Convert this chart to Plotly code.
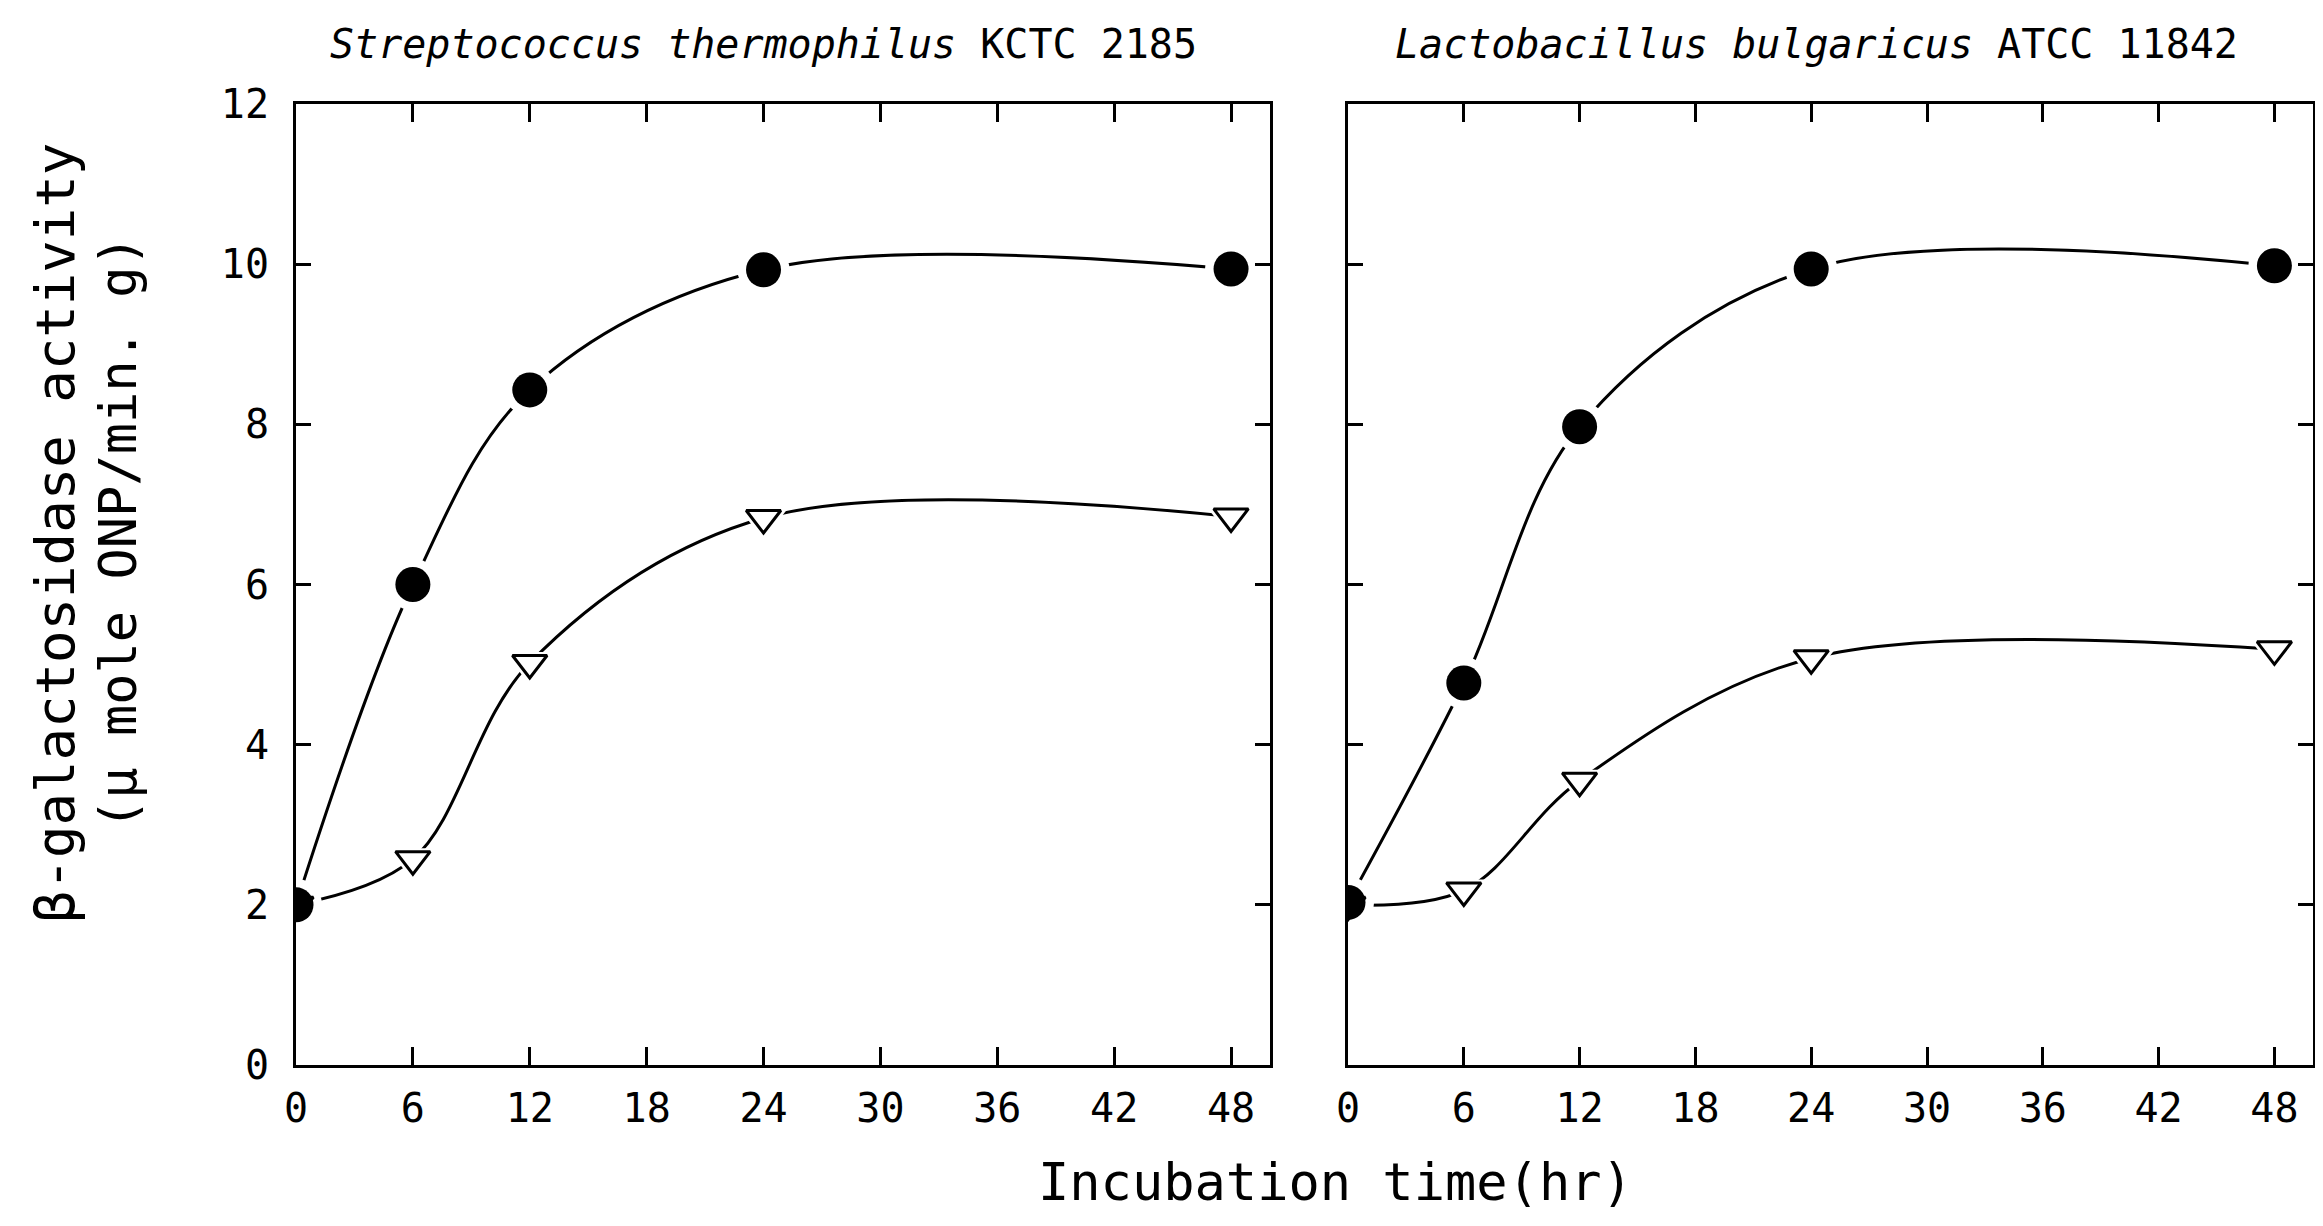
import plotly.graph_objects as go

# ---- data ----
hours = [0, 6, 12, 24, 48]
st_circle = [2.0, 6.0, 8.43, 9.93, 9.94]
st_triangle = [2.0, 2.57, 5.02, 6.83, 6.85]
lb_circle = [2.03, 4.77, 7.97, 9.94, 9.98]
lb_triangle = [2.0, 2.18, 3.55, 5.08, 5.19]
x_ticks = [0, 6, 12, 18, 24, 30, 36, 42, 48]
y_ticks = [0, 2, 4, 6, 8, 10, 12]
titles = ["<i>Streptococcus thermophilus</i> KCTC 2185",
          "<i>Lactobacillus bulgaricus</i> ATCC 11842"]
x_title = "Incubation time(hr)"
y_title_1 = "β-galactosidase activity"
y_title_2 = "(μ mole ONP/min. g)"

FONT = "DejaVu Sans Mono"
OFF = 8  # page body margin
W, H = 2323 - 2 * OFF, 1226 - 2 * OFF


def px(x):
    return min(1.0, (x - OFF) / W)


def py(y):
    return 1 - (y - OFF) / H


fig = go.Figure()

panels = [("x", "y", st_circle, st_triangle), ("x2", "y2", lb_circle, lb_triangle)]

# lines
for xa, ya, circ, tri in panels:
    for vals in (circ, tri):
        fig.add_trace(go.Scatter(x=hours, y=vals, xaxis=xa, yaxis=ya, mode="lines",
                                 line=dict(color="black", width=3, shape="spline", smoothing=1.0),
                                 showlegend=False, hoverinfo="skip"))
# halos (gaps in line around markers)
for xa, ya, circ, tri in panels:
    fig.add_trace(go.Scatter(x=hours, y=tri, xaxis=xa, yaxis=ya, mode="markers",
                             marker=dict(symbol="triangle-down", size=44, color="white"),
                             showlegend=False, hoverinfo="skip"))
    fig.add_trace(go.Scatter(x=hours, y=circ, xaxis=xa, yaxis=ya, mode="markers",
                             marker=dict(symbol="circle", size=52, color="white"),
                             showlegend=False, hoverinfo="skip"))
# markers
for xa, ya, circ, tri in panels:
    fig.add_trace(go.Scatter(x=hours, y=tri, xaxis=xa, yaxis=ya, mode="markers",
                             marker=dict(symbol="triangle-down", size=30, color="white",
                                         line=dict(color="black", width=3)),
                             showlegend=False))
    fig.add_trace(go.Scatter(x=hours, y=circ, xaxis=xa, yaxis=ya, mode="markers",
                             marker=dict(symbol="circle", size=35, color="black",
                                         line=dict(color="black", width=0)),
                             showlegend=False))

x_dom1 = [px(296), px(1270)]
x_dom2 = [px(1348), px(2313)]
y_dom = [py(1065), py(104)]

axis_common = dict(showgrid=False, zeroline=False, showline=True, linecolor="black",
                   linewidth=3, ticks="inside", tickcolor="black", tickwidth=3,
                   mirror="ticks", automargin=False)

fig.update_layout(
    width=W, height=H,
    margin=dict(l=0, r=0, t=0, b=0),
    paper_bgcolor="white", plot_bgcolor="white",
    font=dict(family=FONT, color="black", size=38),
    xaxis=dict(domain=x_dom1, range=[0, 50], tickvals=x_ticks, ticklen=18,
               tickfont=dict(size=40), ticklabelstandoff=6, anchor="y", **axis_common),
    yaxis=dict(domain=y_dom, range=[0, 12], tickvals=y_ticks, ticklen=15,
               tickfont=dict(size=40), ticklabelstandoff=16, anchor="x", **axis_common),
    xaxis2=dict(domain=x_dom2, range=[0, 50], tickvals=x_ticks, ticklen=18,
                tickfont=dict(size=40), ticklabelstandoff=6, anchor="y2", **axis_common),
    yaxis2=dict(domain=y_dom, range=[0, 12], tickvals=y_ticks, ticklen=15,
                showticklabels=False, anchor="x2", **axis_common),
)

ann = []
ann.append(dict(text=titles[0], x=px(763), y=py(44), xref="paper", yref="paper",
                showarrow=False, font=dict(size=40, family=FONT), xanchor="center", yanchor="middle"))
ann.append(dict(text=titles[1], x=px(1816), y=py(44), xref="paper", yref="paper",
                showarrow=False, font=dict(size=40, family=FONT), xanchor="center", yanchor="middle"))
ann.append(dict(text=x_title, x=px(1335), y=py(1182), xref="paper", yref="paper",
                showarrow=False, font=dict(size=52, family=FONT), xanchor="center", yanchor="middle"))
ann.append(dict(text=y_title_1, x=px(55), y=py(533), xref="paper", yref="paper",
                showarrow=False, font=dict(size=54, family=FONT), textangle=-90,
                xanchor="center", yanchor="middle"))
ann.append(dict(text=y_title_2, x=px(118), y=py(533), xref="paper", yref="paper",
                showarrow=False, font=dict(size=52, family=FONT), textangle=-90,
                xanchor="center", yanchor="middle"))
fig.update_layout(annotations=ann)

fig.write_html("out.html")
